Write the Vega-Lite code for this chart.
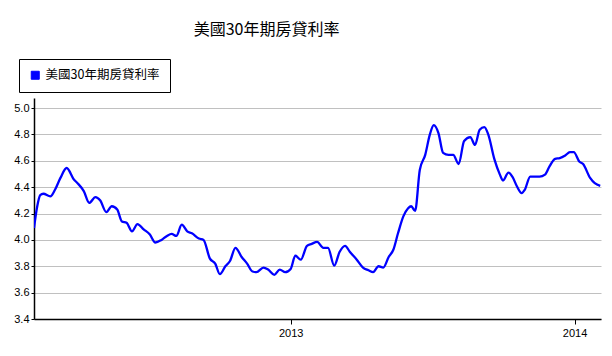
{
  "$schema": "https://vega.github.io/schema/vega-lite/v6.json",
  "width": 567,
  "height": 221,
  "autosize": "none",
  "padding": {"left": 34, "top": 98, "right": 11, "bottom": 37},
  "background": "white",
  "title": {
    "text": "美國30年期房貸利率",
    "font": "Noto Sans CJK TC",
    "fontSize": 16,
    "fontWeight": "normal",
    "color": "#000000",
    "anchor": "middle",
    "dx": -51,
    "offset": 21
  },
  "data": {
    "values": [
      {"date": "2012-02-06", "rate": 4.09},
      {"date": "2012-02-10", "rate": 4.25},
      {"date": "2012-02-14", "rate": 4.34},
      {"date": "2012-02-18", "rate": 4.35},
      {"date": "2012-02-27", "rate": 4.33},
      {"date": "2012-03-04", "rate": 4.38},
      {"date": "2012-03-11", "rate": 4.47},
      {"date": "2012-03-19", "rate": 4.545},
      {"date": "2012-03-28", "rate": 4.46},
      {"date": "2012-04-02", "rate": 4.43},
      {"date": "2012-04-10", "rate": 4.37},
      {"date": "2012-04-17", "rate": 4.28},
      {"date": "2012-04-25", "rate": 4.325},
      {"date": "2012-05-01", "rate": 4.30},
      {"date": "2012-05-09", "rate": 4.21},
      {"date": "2012-05-16", "rate": 4.255},
      {"date": "2012-05-23", "rate": 4.23},
      {"date": "2012-05-29", "rate": 4.14},
      {"date": "2012-06-04", "rate": 4.13},
      {"date": "2012-06-11", "rate": 4.065},
      {"date": "2012-06-18", "rate": 4.12},
      {"date": "2012-06-26", "rate": 4.08},
      {"date": "2012-07-04", "rate": 4.04},
      {"date": "2012-07-11", "rate": 3.98},
      {"date": "2012-07-19", "rate": 4.00},
      {"date": "2012-07-26", "rate": 4.03},
      {"date": "2012-08-01", "rate": 4.045},
      {"date": "2012-08-07", "rate": 4.03},
      {"date": "2012-08-14", "rate": 4.115},
      {"date": "2012-08-21", "rate": 4.065},
      {"date": "2012-08-27", "rate": 4.05},
      {"date": "2012-09-05", "rate": 4.01},
      {"date": "2012-09-11", "rate": 4.00},
      {"date": "2012-09-19", "rate": 3.86},
      {"date": "2012-09-26", "rate": 3.82},
      {"date": "2012-10-02", "rate": 3.74},
      {"date": "2012-10-09", "rate": 3.80},
      {"date": "2012-10-15", "rate": 3.84},
      {"date": "2012-10-22", "rate": 3.94},
      {"date": "2012-10-30", "rate": 3.87},
      {"date": "2012-11-06", "rate": 3.82},
      {"date": "2012-11-13", "rate": 3.76},
      {"date": "2012-11-18", "rate": 3.755},
      {"date": "2012-11-27", "rate": 3.79},
      {"date": "2012-12-03", "rate": 3.775},
      {"date": "2012-12-11", "rate": 3.735},
      {"date": "2012-12-18", "rate": 3.775},
      {"date": "2012-12-25", "rate": 3.755},
      {"date": "2013-01-01", "rate": 3.78},
      {"date": "2013-01-07", "rate": 3.88},
      {"date": "2013-01-14", "rate": 3.85},
      {"date": "2013-01-22", "rate": 3.955},
      {"date": "2013-01-28", "rate": 3.97},
      {"date": "2013-02-04", "rate": 3.985},
      {"date": "2013-02-12", "rate": 3.94},
      {"date": "2013-02-18", "rate": 3.94},
      {"date": "2013-02-26", "rate": 3.805},
      {"date": "2013-03-05", "rate": 3.91},
      {"date": "2013-03-12", "rate": 3.955},
      {"date": "2013-03-18", "rate": 3.91},
      {"date": "2013-03-27", "rate": 3.85},
      {"date": "2013-04-04", "rate": 3.79},
      {"date": "2013-04-11", "rate": 3.77},
      {"date": "2013-04-17", "rate": 3.755},
      {"date": "2013-04-24", "rate": 3.80},
      {"date": "2013-04-30", "rate": 3.79},
      {"date": "2013-05-07", "rate": 3.87},
      {"date": "2013-05-13", "rate": 3.925},
      {"date": "2013-05-19", "rate": 4.05},
      {"date": "2013-05-26", "rate": 4.18},
      {"date": "2013-06-01", "rate": 4.24},
      {"date": "2013-06-05", "rate": 4.255},
      {"date": "2013-06-10", "rate": 4.22},
      {"date": "2013-06-16", "rate": 4.53},
      {"date": "2013-06-23", "rate": 4.645},
      {"date": "2013-06-29", "rate": 4.80},
      {"date": "2013-07-04", "rate": 4.87},
      {"date": "2013-07-10", "rate": 4.81},
      {"date": "2013-07-16", "rate": 4.66},
      {"date": "2013-07-23", "rate": 4.645},
      {"date": "2013-07-29", "rate": 4.645},
      {"date": "2013-08-05", "rate": 4.575},
      {"date": "2013-08-12", "rate": 4.75},
      {"date": "2013-08-20", "rate": 4.78},
      {"date": "2013-08-26", "rate": 4.72},
      {"date": "2013-09-01", "rate": 4.835},
      {"date": "2013-09-07", "rate": 4.855},
      {"date": "2013-09-12", "rate": 4.80},
      {"date": "2013-09-20", "rate": 4.61},
      {"date": "2013-09-27", "rate": 4.495},
      {"date": "2013-10-01", "rate": 4.45},
      {"date": "2013-10-08", "rate": 4.51},
      {"date": "2013-10-13", "rate": 4.48},
      {"date": "2013-10-19", "rate": 4.405},
      {"date": "2013-10-25", "rate": 4.355},
      {"date": "2013-10-29", "rate": 4.38},
      {"date": "2013-11-05", "rate": 4.48},
      {"date": "2013-11-11", "rate": 4.48},
      {"date": "2013-11-17", "rate": 4.48},
      {"date": "2013-11-24", "rate": 4.495},
      {"date": "2013-11-30", "rate": 4.56},
      {"date": "2013-12-07", "rate": 4.615},
      {"date": "2013-12-13", "rate": 4.62},
      {"date": "2013-12-20", "rate": 4.64},
      {"date": "2013-12-26", "rate": 4.665},
      {"date": "2013-12-31", "rate": 4.665},
      {"date": "2014-01-07", "rate": 4.595},
      {"date": "2014-01-12", "rate": 4.575},
      {"date": "2014-01-21", "rate": 4.47},
      {"date": "2014-01-27", "rate": 4.43},
      {"date": "2014-02-03", "rate": 4.41}
    ]
  },
  "mark": {"type": "line", "interpolate": "monotone", "strokeWidth": 2.3, "clip": true},
  "encoding": {
    "x": {
      "field": "date",
      "type": "temporal",
      "scale": {"domain": ["2012-02-06", "2014-02-04"], "nice": false},
      "axis": {
        "title": null,
        "grid": false,
        "format": "%Y",
        "tickCount": {"interval": "year"},
        "domainColor": "#000000",
        "domainWidth": 1.5,
        "tickColor": "#000000",
        "tickSize": 5,
        "labelColor": "#000000",
        "labelFont": "Liberation Sans",
        "labelFontSize": 11,
        "labelPadding": 3
      }
    },
    "y": {
      "field": "rate",
      "type": "quantitative",
      "scale": {"domain": [3.4, 5.076], "nice": false, "zero": false},
      "axis": {
        "title": null,
        "values": [3.4, 3.6, 3.8, 4.0, 4.2, 4.4, 4.6, 4.8, 5.0],
        "format": ".1f",
        "grid": true,
        "gridColor": "#c0c0c0",
        "gridWidth": 1,
        "domainColor": "#000000",
        "domainWidth": 1.5,
        "tickColor": "#000000",
        "tickSize": 3,
        "labelColor": "#000000",
        "labelFont": "Liberation Sans",
        "labelFontSize": 11,
        "labelPadding": 2
      }
    },
    "color": {
      "datum": "美國30年期房貸利率",
      "type": "nominal",
      "scale": {"range": ["#0000ff"]},
      "legend": {
        "title": null,
        "orient": "none",
        "legendX": -15,
        "legendY": -39,
        "direction": "vertical",
        "strokeColor": "#000000",
        "fillColor": "#ffffff",
        "padding": 10,
        "symbolType": "square",
        "symbolFillColor": "#0000ff",
        "symbolStrokeColor": "#000000",
        "symbolStrokeWidth": 1,
        "symbolSize": 64,
        "symbolOpacity": 1,
        "labelFont": "Noto Sans CJK TC",
        "labelFontSize": 12.5,
        "labelColor": "#000000",
        "labelOffset": 4
      }
    }
  },
  "config": {"view": {"stroke": null}}
}
